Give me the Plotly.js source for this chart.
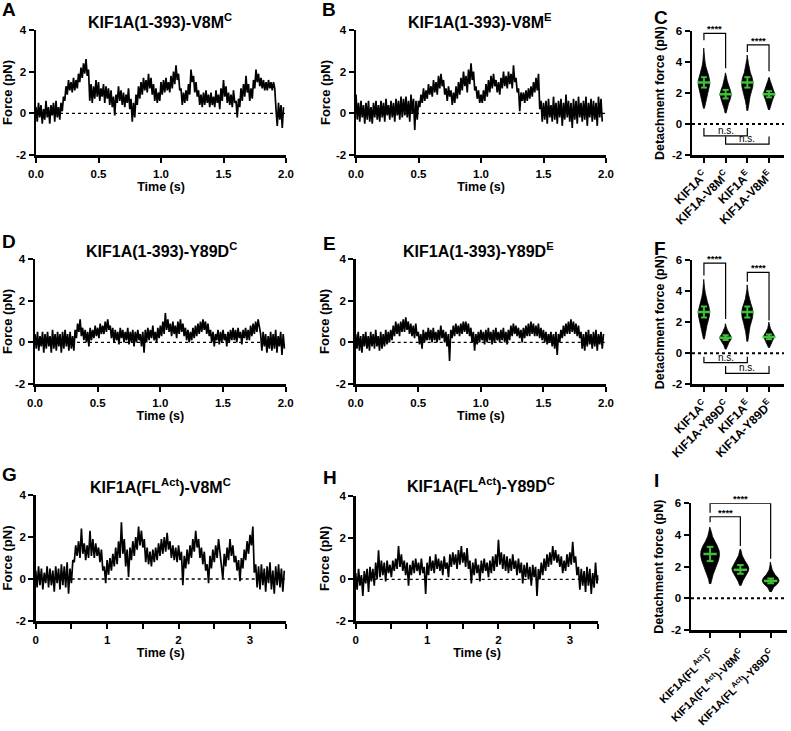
<!DOCTYPE html>
<html><head><meta charset="utf-8">
<script src="https://cdn.plot.ly/plotly-3.0.1.min.js"></script>
<style>html,body{margin:0;padding:0;background:#fff}#chart{width:791px;height:731px}</style>
</head><body><div id="chart"></div>
<script>
// ---------- force traces (pN), sampled at fixed interval ----------
const dtA = 0.01;
const forceA = [0.3,-0.4,0.5,-0.2,0.4,-0.5,0.2,-0.3,0.6,-0.2, 0.3,-0.5,0.4,-0.1,0.5,-0.4,0.6,-0.2,0.3,-0.3,
 0.5,0.1,0.8,0.6,1.3,0.9,1.6,1.1,1.5,1.0, 1.7,1.1,1.6,1.2,1.9,1.5,2.2,1.7,2.4,1.9,
 2.6,1.8,2.1,0.6,1.4,0.5,1.3,0.7,1.6,0.8, 1.5,0.6,1.2,0.8,1.4,0.5,1.3,0.7,1.2,0.4,
 1.1,0.3,0.8,-0.1,0.9,0.5,1.3,0.6,1.1,0.4, 1.0,0.3,0.9,0.5,1.2,0.2,0.7,-0.4,0.5,-0.2,
 0.9,0.4,1.3,0.7,1.5,0.9,1.7,1.1,1.6,1.0, 1.9,1.2,1.7,0.9,1.4,0.6,1.2,0.5,1.0,0.6,
 1.5,0.9,1.6,1.0,1.7,1.1,1.5,1.0,1.8,1.2, 2.0,1.4,2.3,1.6,1.9,1.1,1.2,0.4,1.0,0.5,
 1.1,0.6,1.4,0.9,2.1,1.5,1.8,1.0,1.5,0.8, 1.1,0.4,0.9,0.3,1.0,0.4,1.1,0.5,0.9,0.3,
 1.0,0.4,0.8,0.3,1.1,0.5,0.9,0.2,1.2,0.6, 1.6,0.8,1.3,0.5,1.0,0.4,0.9,0.3,1.1,0.5,
 0.6,-0.2,0.7,0.3,1.2,0.6,1.4,0.8,1.8,1.0, 1.4,0.6,1.2,0.7,1.6,1.2,2.1,1.5,1.9,1.3,
 1.7,1.2,1.6,1.1,1.5,1.1,1.6,1.2,1.5,1.1, 1.5,1.2,0.2,-0.6,0.5,-0.3,0.4,-0.7,0.3];

const dtB = 0.01;
const forceB = [0.9,-0.3,0.5,-0.4,0.6,-0.2,0.4,-0.5,0.5,-0.3, 0.6,-0.4,0.3,-0.5,0.5,-0.2,0.6,-0.3,0.4,-0.4,
 0.6,-0.2,0.5,-0.4,0.7,-0.1,0.4,-0.3,0.6,-0.2, 0.5,-0.4,0.7,-0.1,0.6,-0.3,0.8,-0.2,0.7,-0.1,
 0.8,-0.2,0.6,-0.4,0.9,0.0,0.7,-0.8,0.6,-0.3, 0.6,0.3,0.9,0.5,1.2,0.6,1.1,0.7,1.4,0.9,
 1.3,0.8,1.6,1.0,1.5,0.9,1.8,1.2,1.9,1.3, 1.6,0.9,1.2,0.6,1.3,0.8,1.1,0.4,1.0,0.5,
 1.3,0.7,1.5,0.9,1.7,1.1,2.0,1.3,1.8,1.0, 2.1,1.4,2.4,1.6,2.0,1.1,1.3,0.7,1.1,0.5,
 0.9,0.5,1.1,0.6,1.4,0.8,1.6,1.0,1.8,1.2, 1.9,1.3,1.6,1.0,1.5,0.9,1.7,1.2,2.0,1.3,
 1.8,1.2,2.0,1.4,1.9,1.2,2.3,1.5,1.7,1.0, 1.2,0.1,1.0,0.6,1.0,0.5,1.1,0.6,1.2,0.7,
 1.3,0.8,1.5,1.0,1.7,1.1,1.9,0.2,0.6,-0.4, 0.5,-0.3,0.6,-0.5,0.7,-0.2,0.4,-0.4,0.8,-0.3,
 0.5,-0.5,0.6,-0.2,0.7,-0.6,0.5,-0.3,0.9,-0.2, 0.6,-0.4,0.5,-0.7,0.7,-0.3,0.6,-0.5,0.8,-0.2,
 0.5,-0.4,0.6,-0.3,0.8,-0.6,0.5,-0.2,0.7,-0.4, 0.6,-0.3,0.5,-0.6,0.8,-0.2,0.7,-0.4];

const dtD = 0.01;
const forceD = [0.4,-0.3,0.5,-0.4,0.3,-0.2,0.5,-0.5,0.4,-0.3, 0.5,-0.2,0.3,-0.5,0.6,-0.3,0.4,-0.4,0.5,-0.2,
 0.4,-0.5,0.5,-0.3,0.6,-0.2,0.4,-0.4,0.5,-0.3, 0.3,-0.4,0.6,0.2,0.9,0.5,1.1,0.3,0.7,0.1,
 0.6,0.0,0.5,-0.2,0.7,0.1,0.6,0.2,0.8,0.3, 0.7,0.2,0.9,0.4,0.8,0.4,1.0,0.5,1.1,0.6,
 0.8,0.2,0.7,0.0,0.6,0.1,0.5,-0.1,0.7,0.2, 0.6,0.0,0.5,0.1,0.7,-0.1,0.5,0.0,0.6,-0.2,
 0.5,0.0,0.6,0.1,0.4,-0.2,0.5,-0.5,0.6,0.0, 0.7,0.1,0.6,0.2,0.8,0.1,0.5,0.0,0.7,0.2,
 0.8,0.3,1.0,0.4,1.4,0.6,1.1,0.5,0.9,0.3, 1.0,0.4,0.8,0.2,1.0,0.4,1.1,0.5,0.9,0.3,
 0.7,0.1,0.6,0.0,0.5,0.1,0.7,0.2,0.8,0.3, 0.9,0.4,1.0,0.5,1.1,0.6,1.0,0.4,0.9,0.3,
 0.6,0.0,0.5,-0.2,0.4,0.1,0.6,-0.1,0.5,0.0, 0.6,0.1,0.4,-0.2,0.5,0.0,0.6,0.1,0.7,0.1,
 0.6,0.0,0.7,0.2,0.5,-0.1,0.6,0.2,0.7,0.1, 0.6,0.1,0.8,0.3,0.9,0.4,1.0,0.5,1.1,0.6,
 0.4,-0.4,0.5,-0.2,0.4,-0.5,0.3,-0.3,0.5,-0.4, 0.4,-0.3,0.6,-0.5,0.3,-0.2,0.5,-0.6,0.4,-0.3];

const dtE = 0.01;
const forceE = [0.4,-0.3,0.5,-0.4,0.3,-0.5,0.4,-0.2,0.5,-0.3, 0.3,-0.4,0.5,-0.2,0.4,-0.3,0.6,-0.2,0.3,-0.4,
 0.5,-0.3,0.4,-0.2,0.6,-0.1,0.5,0.0,0.6,0.1, 0.8,0.3,1.0,0.4,0.9,0.3,1.0,0.5,1.1,0.5,
 1.2,0.6,1.0,0.4,0.9,0.3,0.8,0.2,0.9,0.3, 0.5,-0.1,0.4,-0.3,0.6,0.0,0.5,0.1,0.7,0.1,
 0.6,0.0,0.7,0.1,0.5,0.0,0.6,0.1,0.8,0.2, 0.6,0.0,0.5,-0.2,0.4,-0.9,0.6,0.2,0.8,0.3,
 0.9,0.4,0.8,0.3,0.9,0.4,1.0,0.5,1.0,0.4, 0.9,0.3,0.7,0.0,0.5,-0.4,0.4,-0.1,0.5,0.0,
 0.6,0.1,0.5,-0.1,0.6,0.0,0.7,0.1,0.5,-0.1, 0.6,0.0,0.7,0.1,0.5,0.0,0.6,0.1,0.7,0.0,
 0.5,-0.1,0.6,0.1,0.8,0.3,0.9,0.4,0.8,0.3, 0.7,0.2,0.6,0.0,0.7,0.2,0.8,0.3,0.9,0.3,
 1.0,0.4,0.9,0.3,0.8,0.3,0.9,0.2,0.7,0.1, 0.6,0.0,0.5,-0.1,0.4,0.0,0.5,-0.2,0.4,-0.3,
 0.5,-0.6,0.4,0.0,0.6,0.2,0.8,0.3,0.9,0.4, 1.0,0.4,1.1,0.5,1.0,0.4,0.9,0.3,0.8,0.2,
 0.5,-0.3,0.4,-0.4,0.5,-0.2,0.6,-0.1,0.4,-0.3, 0.5,-0.2,0.6,-0.4,0.4,-0.1,0.5,-0.3,0.4];

const dtG = 0.02;
const forceG = [0.4,-0.4,0.6,-0.3,0.5,-0.5,0.3,-0.2,0.6,-0.4, 0.5,-0.3,0.4,-0.6,0.6,-0.2,0.5,-0.5,0.7,-0.3,
 0.6,-0.4,0.8,-0.7,0.5,-0.2,0.9,0.8,1.6,1.1, 1.8,1.0,2.4,1.2,1.7,0.9,1.6,1.0,2.3,1.1,
 1.9,1.0,1.7,1.1,1.5,0.8,1.4,0.4,0.6,-0.2, 0.9,0.2,1.0,0.4,1.2,0.6,1.5,0.7,1.8,1.0,
 2.7,1.2,1.9,0.6,1.4,0.1,1.5,0.9,1.8,1.1, 2.0,1.4,2.5,1.6,2.3,1.5,1.9,0.8,1.5,0.7,
 1.3,0.6,1.4,0.8,1.5,0.9,1.7,1.1,1.9,1.2, 2.0,1.3,2.2,1.4,1.8,1.0,1.6,0.9,1.5,0.8,
 1.6,0.9,1.3,-0.3,1.1,0.5,1.4,0.7,1.6,1.0, 1.9,1.3,2.3,1.5,1.9,1.0,1.5,0.7,1.3,0.4,
 0.7,-0.2,1.1,0.5,1.4,0.8,1.6,1.0,1.9,1.2, 0.8,0.0,1.2,0.6,1.5,0.9,1.9,1.1,1.6,0.8,
 1.1,0.4,0.9,-0.1,1.0,0.5,1.4,0.9,1.8,1.2, 2.1,1.6,2.5,0.3,0.7,-0.4,0.6,-0.5,0.7,-0.3,
 0.5,-0.6,0.6,-0.2,0.8,-0.5,0.4,-0.7,0.6,-0.3, 0.7,-0.4,0.5,-0.6,0.4];

const dtH = 0.02;
const forceH = [0.3,-0.5,0.5,-0.3,0.2,-0.8,0.4,-0.2,0.5,-0.6, 0.6,-0.1,0.5,-0.3,0.8,0.0,1.4,0.1,0.9,0.2,
 0.8,-0.1,0.9,0.3,0.7,0.1,0.9,0.4,1.0,0.5, 1.6,0.6,1.2,0.4,0.9,0.2,0.8,-0.3,0.7,0.2,
 0.9,0.3,1.0,0.4,0.8,0.2,1.0,0.3,0.6,-0.7, 0.8,0.2,1.1,0.4,0.9,0.3,1.2,0.5,1.0,0.4,
 0.9,0.2,1.1,0.5,0.8,0.1,1.2,0.6,1.3,0.7, 1.2,0.5,1.4,0.7,1.6,0.8,1.3,0.6,1.5,0.5,
 0.9,-0.2,0.8,0.2,1.0,0.3,0.7,-0.1,0.9,0.3, 1.0,0.4,0.8,0.1,0.9,0.3,1.1,0.4,1.2,0.6,
 1.9,0.7,1.3,0.5,1.2,0.4,1.1,0.3,1.0,0.4, 1.2,0.5,0.9,0.2,1.0,0.3,0.8,-0.2,0.7,0.1,
 0.8,0.0,0.6,-0.3,0.7,0.1,0.6,-0.8,0.5,0.0, 0.8,0.2,1.0,0.4,1.2,0.6,1.3,0.7,1.6,0.9,
 1.4,0.8,1.2,0.6,1.1,0.3,0.9,0.4,1.2,0.6, 1.3,0.7,1.8,0.8,1.1,0.2,0.6,-0.5,0.5,-0.3,
 0.4,-0.6,0.6,-0.3,0.5,-0.7,0.3,-0.4,0.8,-0.2, 0.2];

// ---------- tick labels ----------
const ticks2s = [0,0.5,1,1.5,2], ticks2sText = ['0.0','0.5','1.0','1.5','2.0'];
const ticksLong = [0,1,2,3], ticksLongText = ['0','1','2','3'];
const minorG = [0.5,1.5,2.5,3.5];
const minorH = [0.5,1.5,2.5,3.4];
const forceTicks = [-2,0,2,4];
const detTicks = [-2,0,2,4,6];

// ---------- detachment force distributions (violin outlines: level, half-width) ----------
const catsC = ['KIF1A<sup>C</sup>','KIF1A-V8M<sup>C</sup>','KIF1A<sup>E</sup>','KIF1A-V8M<sup>E</sup>'];
const levelsC = [[1.0,1.3,1.6,1.9,2.2,2.5,2.8,3.1,3.4,3.7,4.0,4.3,4.6,4.9],
  [0.7,1.0,1.3,1.6,1.9,2.2,2.5,2.8,3.1,3.3],
  [0.85,1.2,1.5,1.8,2.1,2.4,2.7,3.0,3.3,3.6,3.9,4.2,4.45],
  [0.9,1.2,1.5,1.8,2.0,2.2,2.5,2.8,3.0]];
const widthsC = [[0.02,0.06,0.1,0.15,0.21,0.26,0.26,0.22,0.15,0.09,0.05,0.03,0.02,0.01],
  [0.02,0.07,0.13,0.21,0.26,0.21,0.13,0.07,0.03,0.01],
  [0.02,0.05,0.09,0.13,0.19,0.25,0.26,0.22,0.14,0.08,0.05,0.02,0.01],
  [0.02,0.07,0.15,0.23,0.25,0.2,0.11,0.05,0.01]];
const medianC = [2.68,1.92,2.68,1.92], q1C = [2.35,1.65,2.35,1.72], q3C = [3.02,2.2,3.02,2.12];
// brackets: [from, to, level, leg end at from, leg end at to, label]
const bracketsC = [[0,1,5.85,5.4,3.6,'****'],[2,3,5.1,4.65,3.4,'****'],
  [0,2,-0.77,-0.26,-0.26,'n.s.'],[1,3,-1.3,-0.8,-0.8,'n.s.']];

const catsF = ['KIF1A<sup>C</sup>','KIF1A-Y89D<sup>C</sup>','KIF1A<sup>E</sup>','KIF1A-Y89D<sup>E</sup>'];
const levelsF = [[0.9,1.2,1.5,1.8,2.1,2.4,2.7,3.0,3.3,3.6,3.9,4.2,4.5,4.75],
  [0.25,0.5,0.7,0.9,1.0,1.1,1.3,1.5,1.7,1.9],
  [0.75,1.1,1.4,1.7,2.0,2.3,2.6,2.9,3.2,3.5,3.8,4.1,4.4],
  [0.35,0.6,0.8,1.0,1.1,1.2,1.4,1.6,1.8,2.0]];
const widthsF = [[0.02,0.05,0.09,0.14,0.2,0.25,0.26,0.23,0.16,0.1,0.06,0.03,0.02,0.01],
  [0.02,0.08,0.16,0.25,0.27,0.24,0.15,0.08,0.03,0.01],
  [0.02,0.05,0.08,0.12,0.18,0.24,0.26,0.23,0.16,0.09,0.05,0.02,0.01],
  [0.02,0.08,0.16,0.23,0.25,0.22,0.13,0.06,0.03,0.01]];
const medianF = [2.65,1.0,2.65,1.05], q1F = [2.3,0.85,2.3,0.9], q3F = [3.0,1.15,3.0,1.2];
const bracketsF = [[0,1,5.8,5.0,2.2,'****'],[2,3,5.2,4.6,2.1,'****'],
  [0,2,-0.6,-0.23,-0.23,'n.s.'],[1,3,-1.3,-0.83,-0.83,'n.s.']];

const catsI = ['KIF1A(FL<sup>Act</sup>)<sup>C</sup>','KIF1A(FL<sup>Act</sup>)-V8M<sup>C</sup>','KIF1A(FL<sup>Act</sup>)-Y89D<sup>C</sup>'];
const levelsI = [[0.9,1.2,1.5,1.8,2.1,2.4,2.7,3.0,3.3,3.6,3.9,4.2,4.5],
  [0.8,1.1,1.4,1.7,1.9,2.1,2.4,2.7,3.1],
  [0.4,0.7,0.9,1.1,1.3,1.5,1.8,2.1,2.3]];
const widthsI = [[0.02,0.05,0.1,0.16,0.22,0.28,0.31,0.3,0.24,0.15,0.08,0.04,0.01],
  [0.02,0.08,0.17,0.26,0.28,0.24,0.14,0.06,0.01],
  [0.02,0.1,0.22,0.28,0.24,0.14,0.05,0.02,0.01]];
const medianI = [2.8,1.8,1.1], q1I = [2.35,1.55,0.95], q3I = [3.25,2.1,1.25];
const bracketsI = [[0,2,6.0,5.4,2.5,'****'],[0,1,5.15,4.8,3.3,'****']];

// ---------- build ----------
const FONT = 'Liberation Sans, Arial, Helvetica, sans-serif';
const W = 791, H = 731;
const xd = (l, r) => [l / W, r / W];
const yd = (t, b) => [1 - b / H, 1 - t / H];
const fnt = (s, w) => ({family: FONT, size: s, color: '#000', weight: w || 'bold'});
const GREEN = '#3fbf3a';

const data = [], annotations = [], shapes = [];
const layout = {width: W, height: H, margin: {l: 0, r: 0, t: 0, b: 0}, showlegend: false,
  paper_bgcolor: '#fff', plot_bgcolor: 'rgba(0,0,0,0)', font: {family: FONT, color: '#000'}};

function axisBase() {
  return {showline: true, linewidth: 2.5, linecolor: '#000', ticks: 'outside', ticklen: 5, tickwidth: 2,
    tickcolor: '#000', showgrid: false, zeroline: false, tickfont: fnt(11.5), fixedrange: true, automargin: false};
}
function names(n) { return n === 1 ? ['x', 'y', 'xaxis', 'yaxis'] : ['x' + n, 'y' + n, 'xaxis' + n, 'yaxis' + n]; }

function letter(txt, px, py) {
  annotations.push({text: txt, xref: 'paper', yref: 'paper', x: px / W, y: 1 - py / H, xanchor: 'left', yanchor: 'middle',
    showarrow: false, font: fnt(19)});
}

const tracePanels = [
  {n: 1, L: 'A', Lp: [0, 10], title: 'KIF1A(1-393)-V8M<sup>C</sup>', tp: [160, 21], vals: forceA, dt: dtA, xr: [0, 2], tv: ticks2s, tt: ticks2sText, px: [36, 286], py: [30, 155]},
  {n: 2, L: 'B', Lp: [320, 10], title: 'KIF1A(1-393)-V8M<sup>E</sup>', tp: [480, 21], vals: forceB, dt: dtB, xr: [0, 2], tv: ticks2s, tt: ticks2sText, px: [356, 606], py: [30, 155]},
  {n: 4, L: 'D', Lp: [0, 241], title: 'KIF1A(1-393)-Y89D<sup>C</sup>', tp: [161, 250], vals: forceD, dt: dtD, xr: [0, 2], tv: ticks2s, tt: ticks2sText, px: [35, 285.7], py: [259, 384]},
  {n: 5, L: 'E', Lp: [321, 244], title: 'KIF1A(1-393)-Y89D<sup>E</sup>', tp: [478, 250], vals: forceE, dt: dtE, xr: [0, 2], tv: ticks2s, tt: ticks2sText, px: [355.7, 606], py: [259, 384]},
  {n: 7, L: 'G', Lp: [0, 474], title: 'KIF1A(FL<sup>Act</sup>)-V8M<sup>C</sup>', tp: [160, 486], vals: forceG, dt: dtG, xr: [0, 3.5], tv: ticksLong, tt: ticksLongText, minor: minorG, px: [35.7, 285.7], py: [495, 621]},
  {n: 8, L: 'H', Lp: [321, 477], title: 'KIF1A(FL<sup>Act</sup>)-Y89D<sup>C</sup>', tp: [481, 485], vals: forceH, dt: dtH, xr: [0, 3.4], tv: ticksLong, tt: ticksLongText, minor: minorH, px: [355.7, 598.4], py: [496, 621]}
];

tracePanels.forEach(p => {
  const [xn, yn, xk, yk] = names(p.n);
  const t = p.vals.map((v, i) => i * p.dt);
  data.push({type: 'scatter', mode: 'lines', x: t, y: p.vals, xaxis: xn, yaxis: yn,
    line: {color: '#000', width: 1.7}, hoverinfo: 'skip'});
  const xa = Object.assign(axisBase(), {domain: xd(p.px[0], p.px[1]), range: p.xr, anchor: yn,
    tickmode: 'array', tickvals: p.tv, ticktext: p.tt, ticklabelstandoff: 2,
    title: {text: 'Time (s)', font: fnt(12.5), standoff: 3}});
  if (p.minor) {
    xa.minor = {tickmode: 'array', tickvals: p.minor, ticks: 'outside', ticklen: 5, tickwidth: 2, tickcolor: '#000', showgrid: false};
  }
  layout[xk] = xa;
  layout[yk] = Object.assign(axisBase(), {domain: yd(p.py[0], p.py[1]), range: [-2, 4], anchor: xn,
    tickmode: 'array', tickvals: forceTicks, ticktext: forceTicks.map(String),
    title: {text: 'Force (pN)', font: fnt(13), standoff: 3}});
  shapes.push({type: 'line', xref: xn + ' domain', x0: 0, x1: 1, yref: yn, y0: 0, y1: 0,
    line: {color: '#000', width: 1.3, dash: 'dot'}});
  letter(p.L, p.Lp[0], p.Lp[1]);
  annotations.push({text: p.title, xref: 'paper', yref: 'paper', x: p.tp[0] / W, y: 1 - p.tp[1] / H,
    xanchor: 'center', yanchor: 'middle', showarrow: false, font: fnt(16)});
});

const violinPanels = [
  {n: 3, L: 'C', Lp: [652, 17], cats: catsC, lv: levelsC, wd: widthsC, med: medianC, q1: q1C, q3: q3C, br: bracketsC,
    xr: [-0.55, 3.69], px: [692, 784], py: [31, 155], mh: 0.3, qh: 0.14, tf: 12, ts: 1},
  {n: 6, L: 'F', Lp: [652, 248], cats: catsF, lv: levelsF, wd: widthsF, med: medianF, q1: q1F, q3: q3F, br: bracketsF,
    xr: [-0.55, 3.69], px: [692, 784], py: [260, 384.3], mh: 0.3, qh: 0.14, tf: 12, ts: 1},
  {n: 9, L: 'I', Lp: [652, 480], cats: catsI, lv: levelsI, wd: widthsI, med: medianI, q1: q1I, q3: q3I, br: bracketsI,
    xr: [-0.63, 2.54], px: [691, 787], py: [503.3, 630], mh: 0.22, qh: 0.11, tf: 11, ts: 5}
];

violinPanels.forEach(p => {
  const [xn, yn, xk, yk] = names(p.n);
  p.cats.forEach((c, i) => {
    const lv = p.lv[i], wd = p.wd[i];
    const xs = lv.map((y, k) => i + wd[k]).concat(lv.slice().reverse().map((y, k) => i - wd[lv.length - 1 - k]));
    const ys = lv.concat(lv.slice().reverse());
    data.push({type: 'scatter', mode: 'lines', x: xs, y: ys, fill: 'toself', fillcolor: '#000',
      line: {color: '#000', width: 0.8}, xaxis: xn, yaxis: yn, hoverinfo: 'skip'});
  });
  p.cats.forEach((c, i) => {
    data.push({type: 'scatter', mode: 'lines', x: [i, i], y: [p.q1[i], p.q3[i]], line: {color: GREEN, width: 2}, xaxis: xn, yaxis: yn, hoverinfo: 'skip'});
    data.push({type: 'scatter', mode: 'lines', x: [i - p.qh, i + p.qh], y: [p.q1[i], p.q1[i]], line: {color: GREEN, width: 2}, xaxis: xn, yaxis: yn, hoverinfo: 'skip'});
    data.push({type: 'scatter', mode: 'lines', x: [i - p.qh, i + p.qh], y: [p.q3[i], p.q3[i]], line: {color: GREEN, width: 2}, xaxis: xn, yaxis: yn, hoverinfo: 'skip'});
    data.push({type: 'scatter', mode: 'lines', x: [i - p.mh, i + p.mh], y: [p.med[i], p.med[i]], line: {color: GREEN, width: 2.5}, xaxis: xn, yaxis: yn, hoverinfo: 'skip'});
  });
  p.br.forEach(b => {
    data.push({type: 'scatter', mode: 'lines', x: [b[0], b[0], b[1], b[1]], y: [b[3], b[2], b[2], b[4]],
      line: {color: '#000', width: 1.2}, xaxis: xn, yaxis: yn, hoverinfo: 'skip'});
    annotations.push({text: b[5], xref: xn, yref: yn, x: (b[0] + b[1]) / 2, y: b[2], xanchor: 'center', yanchor: 'bottom',
      showarrow: false, font: b[5] === 'n.s.' ? fnt(10, 'normal') : fnt(9.5), yshift: b[5] === 'n.s.' ? -2 : -3});
  });
  layout[xk] = Object.assign(axisBase(), {domain: xd(p.px[0], p.px[1]), range: p.xr, anchor: yn,
    tickmode: 'array', tickvals: p.cats.map((c, i) => i), ticktext: p.cats, tickangle: -45, tickfont: fnt(p.tf), ticklabelstandoff: p.ts});
  layout[yk] = Object.assign(axisBase(), {domain: yd(p.py[0], p.py[1]), range: [-2, 6], anchor: xn,
    tickmode: 'array', tickvals: detTicks, ticktext: detTicks.map(String),
    title: {text: 'Detachment force (pN)', font: fnt(12.5), standoff: 5}});
  shapes.push({type: 'line', xref: xn + ' domain', x0: 0, x1: 1, yref: yn, y0: 0, y1: 0,
    line: {color: '#000', width: 2, dash: 'dot'}});
  letter(p.L, p.Lp[0], p.Lp[1]);
});

layout.annotations = annotations;
layout.shapes = shapes;
Plotly.newPlot('chart', data, layout, {staticPlot: true, displayModeBar: false});
</script></body></html>
